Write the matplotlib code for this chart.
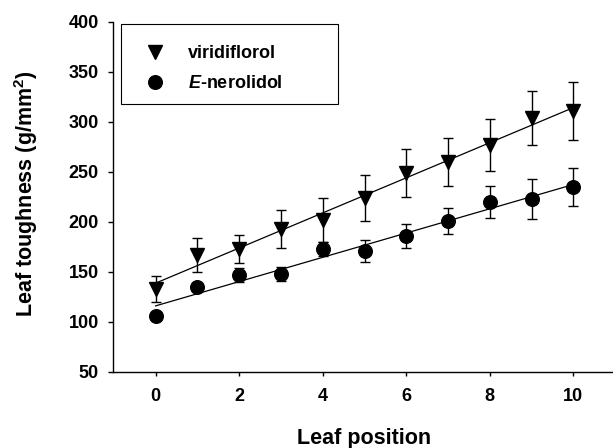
import numpy as np
import matplotlib
matplotlib.use("Agg")
import matplotlib.pyplot as plt
from matplotlib.lines import Line2D
from matplotlib.patches import Rectangle

plt.rcParams['font.family'] = ['Liberation Sans', 'DejaVu Sans']
plt.rcParams['font.weight'] = 'bold'
plt.rcParams['mathtext.fontset'] = 'custom'
plt.rcParams['mathtext.rm'] = 'Liberation Sans:bold'
plt.rcParams['mathtext.bf'] = 'Liberation Sans:bold'
plt.rcParams['mathtext.it'] = 'Liberation Sans:italic:bold'

# leaf position 0..10, mean toughness and error
leaf_pos = np.arange(0, 11)
viridiflorol = [133, 167, 173, 193, 202, 224, 249, 260, 277, 304, 311]
viridiflorol_err = [13, 17, 14, 19, 22, 23, 24, 24, 26, 27, 29]
nerolidol = [106, 135, 147, 148, 173, 171, 186, 201, 220, 223, 235]
nerolidol_err = [4, 4, 7, 7, 7, 11, 12, 13, 16, 20, 19]

x_ticks = [0, 2, 4, 6, 8, 10]
y_ticks = [50, 100, 150, 200, 250, 300, 350, 400]

W, H = 613, 448
fig = plt.figure(figsize=(W / 100, H / 100), dpi=100)
ax = fig.add_axes([113 / W, (H - 372) / H, 503 / W, 350 / H])

# linear fits
for vals in (viridiflorol, nerolidol):
    k, b = np.polyfit(leaf_pos, vals, 1)
    xs = np.array([leaf_pos[0], leaf_pos[-1]])
    ax.plot(xs, k * xs + b, color='black', lw=0.9, zorder=2)

ax.errorbar(leaf_pos, viridiflorol, yerr=viridiflorol_err, fmt='v', color='black',
            ms=9.5, elinewidth=1.0, capsize=3.6, capthick=1.0, ecolor='black', zorder=3)
ax.errorbar(leaf_pos, nerolidol, yerr=nerolidol_err, fmt='o', color='black',
            ms=9.8, elinewidth=1.0, capsize=3.6, capthick=1.0, ecolor='black', zorder=3)

ax.set_xlim(-1.02, 11.02)
ax.set_ylim(50, 400)
ax.set_xticks(x_ticks)
ax.set_yticks(y_ticks)
ax.spines['top'].set_visible(False)
ax.spines['right'].set_visible(False)
for s in ('left', 'bottom'):
    ax.spines[s].set_linewidth(1.0)
ax.tick_params(axis='y', length=3.6, width=1.0, pad=6.5, labelsize=13)
ax.tick_params(axis='x', length=3.0, width=1.0, pad=8.5, labelsize=13)
for lab in ax.get_xticklabels() + ax.get_yticklabels():
    lab.set_fontweight('bold')

fig.text(364.5 / W, (H - 444) / H, 'Leaf position', ha='center', va='baseline',
         fontsize=15.5, fontweight='bold')
fig.text(33.5 / W, (H - 194) / H, 'Leaf toughness (g/mm$^{2}$)', ha='center',
         va='baseline', rotation=90, rotation_mode='anchor', fontsize=15.5,
         fontweight='bold')

handles = [Line2D([], [], ls='none', marker='v', color='black', ms=9.5),
           Line2D([], [], ls='none', marker='o', color='black', ms=9.8)]
ax.legend(handles, ['viridiflorol', r'$\mathit{E}$-nerolidol'], loc='upper left',
          bbox_to_anchor=(0.066, 0.933), frameon=False, borderpad=0,
          borderaxespad=0, handlelength=1.0, handletextpad=1.3,
          labelspacing=0.72, prop={'size': 13, 'weight': 'bold'})
ax.add_patch(Rectangle((0.0159, 0.7657), 0.4314, 0.2286, transform=ax.transAxes,
                       fill=False, edgecolor='black', lw=0.8, clip_on=False))

fig.savefig('out.png', dpi=100)
